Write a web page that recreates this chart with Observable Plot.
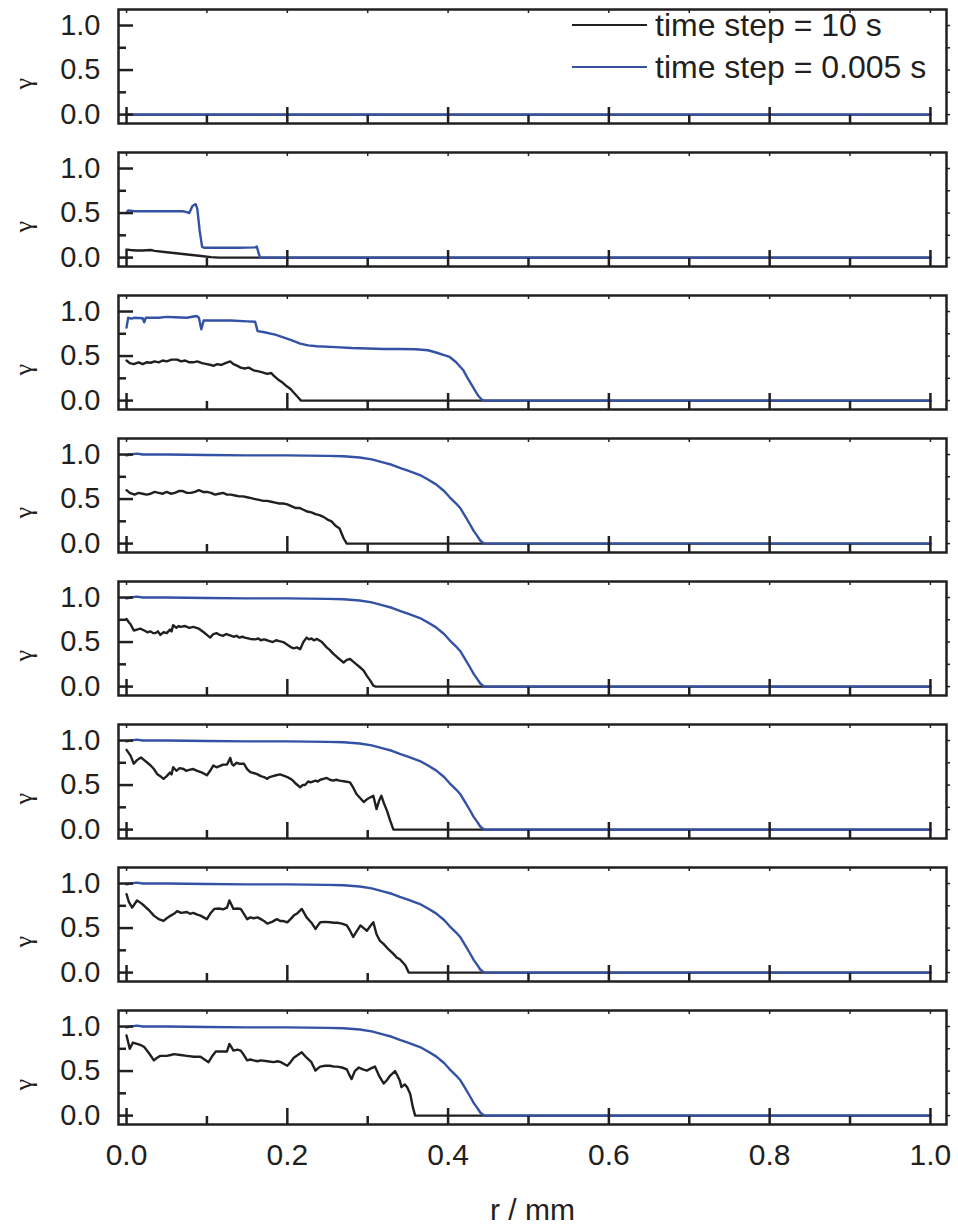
<!DOCTYPE html>
<html>
<head>
<meta charset="utf-8">
<script src="https://cdn.jsdelivr.net/npm/d3@7"></script>
<script src="https://cdn.jsdelivr.net/npm/@observablehq/plot@0.6"></script>
<style>
  html, body { margin: 0; padding: 0; background: white; }
  #chart { position: relative; width: 958px; height: 1230px; font-family: "Liberation Sans", Arial, sans-serif; color: #231f20; }
  #chart svg { display: block; }
  #legend { position: absolute; left: 572px; top: 4px; font-size: 32px; }
  #legend .row { display: flex; align-items: center; height: 42px; }
  #legend .sw { width: 75px; height: 0; border-top: 2px solid; margin-right: 8px; }
</style>
</head>
<body>
<div id="chart"></div>
<script>
// ---- tick values ----
const yMajorTicks = [0, 0.5, 1.0];
const yMinorTicks = [0.25, 0.75];
const yAllTicks = [0, 0.25, 0.5, 0.75, 1.0];
const xMajorTicks = [0, 0.2, 0.4, 0.6, 0.8, 1.0];
const xMinorTicks = [0.1, 0.3, 0.5, 0.7, 0.9];
const xAllTicks = [0, 0.1, 0.2, 0.3, 0.4, 0.5, 0.6, 0.7, 0.8, 0.9, 1.0];

// ---- series labels ----
const seriesLabels = ["time step = 10 s", "time step = 0.005 s"];
const seriesColors = ["#231f20", "#3352a6"];

// ---- data: [r (mm), gamma] ----
const p1Black = [[0, 0], [1, 0]];
const p1Blue = [[0, 0], [1, 0]];

const p2Black = [[0,0.09],[0.005,0.085],[0.012,0.08],[0.02,0.08],[0.03,0.085],[0.035,0.075],[0.05,0.06],[0.07,0.04],[0.09,0.02],[0.105,0.005],[0.115,0],[1,0]];
const p2Blue = [[0,0.5],[0.002,0.53],[0.01,0.52],[0.03,0.52],[0.05,0.52],[0.07,0.52],[0.075,0.51],[0.078,0.5],[0.082,0.58],[0.086,0.6],[0.088,0.55],[0.091,0.3],[0.094,0.12],[0.097,0.11],[0.12,0.11],[0.14,0.11],[0.16,0.115],[0.162,0.125],[0.164,0.06],[0.166,0],[1,0]];

const p3Black = [[0,0.45],[0.004,0.42],[0.009,0.41],[0.015,0.43],[0.02,0.41],[0.025,0.43],[0.03,0.425],[0.035,0.44],[0.04,0.43],[0.045,0.45],[0.05,0.44],[0.056,0.46],[0.063,0.46],[0.068,0.44],[0.073,0.45],[0.078,0.43],[0.083,0.43],[0.088,0.44],[0.094,0.42],[0.1,0.41],[0.105,0.4],[0.108,0.39],[0.113,0.41],[0.118,0.4],[0.123,0.42],[0.129,0.44],[0.133,0.41],[0.138,0.39],[0.142,0.37],[0.147,0.36],[0.152,0.37],[0.158,0.34],[0.163,0.33],[0.168,0.32],[0.175,0.3],[0.18,0.31],[0.183,0.28],[0.188,0.24],[0.193,0.21],[0.198,0.17],[0.204,0.13],[0.209,0.08],[0.213,0.04],[0.217,0],[1,0]];
const p3Blue = [[0,0.82],[0.002,0.93],[0.006,0.92],[0.01,0.93],[0.02,0.925],[0.022,0.88],[0.024,0.93],[0.04,0.93],[0.05,0.94],[0.06,0.935],[0.075,0.93],[0.087,0.95],[0.09,0.93],[0.093,0.8],[0.096,0.9],[0.11,0.9],[0.13,0.9],[0.15,0.89],[0.16,0.885],[0.163,0.78],[0.17,0.77],[0.185,0.74],[0.195,0.71],[0.205,0.68],[0.216,0.64],[0.226,0.62],[0.237,0.61],[0.26,0.6],[0.28,0.59],[0.3,0.585],[0.32,0.58],[0.34,0.58],[0.36,0.577],[0.375,0.565],[0.385,0.54],[0.395,0.51],[0.402,0.49],[0.41,0.43],[0.419,0.34],[0.425,0.24],[0.431,0.15],[0.437,0.06],[0.442,0.01],[0.445,0],[1,0]];

const p4Black = [[0,0.6],[0.004,0.57],[0.01,0.55],[0.015,0.57],[0.02,0.56],[0.025,0.55],[0.03,0.56],[0.035,0.58],[0.04,0.57],[0.045,0.56],[0.05,0.58],[0.055,0.56],[0.06,0.57],[0.065,0.59],[0.07,0.59],[0.075,0.57],[0.08,0.57],[0.085,0.58],[0.09,0.6],[0.095,0.58],[0.1,0.58],[0.105,0.57],[0.11,0.55],[0.115,0.56],[0.12,0.57],[0.125,0.55],[0.13,0.55],[0.135,0.54],[0.14,0.53],[0.145,0.53],[0.15,0.52],[0.155,0.51],[0.16,0.5],[0.165,0.49],[0.17,0.48],[0.175,0.48],[0.18,0.47],[0.185,0.46],[0.19,0.45],[0.195,0.45],[0.2,0.44],[0.205,0.42],[0.21,0.4],[0.215,0.4],[0.22,0.38],[0.225,0.36],[0.23,0.35],[0.235,0.33],[0.24,0.32],[0.245,0.3],[0.25,0.27],[0.255,0.25],[0.26,0.2],[0.265,0.17],[0.27,0.06],[0.274,0],[1,0]];

const p5Black = [[0,0.76],[0.003,0.72],[0.005,0.7],[0.009,0.63],[0.013,0.64],[0.017,0.65],[0.022,0.63],[0.026,0.61],[0.03,0.62],[0.033,0.6],[0.036,0.6],[0.039,0.62],[0.042,0.58],[0.046,0.61],[0.05,0.6],[0.054,0.64],[0.056,0.62],[0.058,0.69],[0.062,0.66],[0.065,0.68],[0.067,0.67],[0.073,0.68],[0.078,0.66],[0.083,0.67],[0.09,0.65],[0.096,0.61],[0.1,0.58],[0.104,0.55],[0.108,0.59],[0.112,0.6],[0.116,0.58],[0.12,0.57],[0.124,0.59],[0.127,0.58],[0.133,0.56],[0.137,0.57],[0.14,0.55],[0.144,0.56],[0.147,0.55],[0.154,0.535],[0.16,0.53],[0.164,0.54],[0.167,0.52],[0.171,0.53],[0.175,0.52],[0.182,0.5],[0.186,0.52],[0.19,0.51],[0.195,0.5],[0.2,0.47],[0.205,0.44],[0.208,0.43],[0.212,0.44],[0.216,0.42],[0.22,0.5],[0.224,0.55],[0.227,0.53],[0.23,0.54],[0.233,0.52],[0.237,0.535],[0.243,0.5],[0.249,0.44],[0.253,0.41],[0.257,0.37],[0.262,0.33],[0.266,0.3],[0.27,0.27],[0.274,0.3],[0.278,0.31],[0.282,0.28],[0.286,0.25],[0.29,0.22],[0.295,0.18],[0.299,0.12],[0.303,0.07],[0.307,0.01],[0.31,0],[1,0]];

const p6Black = [[0,0.895],[0.005,0.83],[0.009,0.74],[0.013,0.78],[0.018,0.81],[0.022,0.78],[0.026,0.75],[0.03,0.72],[0.034,0.68],[0.038,0.625],[0.042,0.6],[0.046,0.57],[0.05,0.6],[0.054,0.64],[0.056,0.62],[0.058,0.7],[0.062,0.66],[0.066,0.69],[0.071,0.68],[0.074,0.66],[0.078,0.67],[0.083,0.68],[0.088,0.66],[0.094,0.64],[0.1,0.61],[0.104,0.66],[0.108,0.72],[0.112,0.7],[0.115,0.71],[0.12,0.73],[0.125,0.73],[0.129,0.805],[0.131,0.74],[0.133,0.72],[0.137,0.75],[0.14,0.74],[0.146,0.74],[0.15,0.68],[0.154,0.645],[0.16,0.63],[0.163,0.62],[0.167,0.6],[0.171,0.59],[0.175,0.57],[0.178,0.59],[0.182,0.6],[0.186,0.61],[0.191,0.62],[0.197,0.6],[0.2,0.59],[0.204,0.57],[0.207,0.55],[0.21,0.52],[0.216,0.475],[0.219,0.5],[0.222,0.5],[0.226,0.54],[0.229,0.53],[0.235,0.55],[0.238,0.54],[0.241,0.56],[0.245,0.57],[0.249,0.58],[0.253,0.56],[0.257,0.55],[0.261,0.56],[0.265,0.55],[0.272,0.54],[0.278,0.53],[0.282,0.47],[0.286,0.4],[0.29,0.36],[0.295,0.31],[0.299,0.34],[0.303,0.36],[0.307,0.38],[0.311,0.23],[0.314,0.32],[0.317,0.38],[0.32,0.3],[0.324,0.21],[0.328,0.1],[0.332,0],[1,0]];

const p7Black = [[0,0.88],[0.003,0.79],[0.007,0.73],[0.013,0.81],[0.018,0.78],[0.022,0.75],[0.028,0.7],[0.034,0.64],[0.04,0.6],[0.046,0.58],[0.05,0.61],[0.055,0.64],[0.059,0.66],[0.063,0.69],[0.068,0.67],[0.075,0.68],[0.079,0.66],[0.083,0.67],[0.088,0.65],[0.092,0.64],[0.1,0.6],[0.104,0.66],[0.109,0.715],[0.115,0.72],[0.12,0.71],[0.125,0.73],[0.128,0.81],[0.133,0.715],[0.138,0.72],[0.142,0.715],[0.146,0.66],[0.15,0.6],[0.154,0.62],[0.158,0.61],[0.163,0.62],[0.167,0.6],[0.171,0.58],[0.175,0.55],[0.181,0.57],[0.187,0.6],[0.191,0.58],[0.194,0.58],[0.2,0.565],[0.204,0.6],[0.208,0.64],[0.213,0.67],[0.218,0.715],[0.224,0.62],[0.23,0.56],[0.235,0.49],[0.238,0.53],[0.241,0.565],[0.247,0.57],[0.253,0.565],[0.258,0.56],[0.262,0.56],[0.268,0.55],[0.274,0.53],[0.278,0.47],[0.282,0.4],[0.286,0.46],[0.291,0.53],[0.295,0.5],[0.299,0.47],[0.303,0.52],[0.307,0.565],[0.311,0.43],[0.315,0.36],[0.32,0.32],[0.326,0.26],[0.332,0.21],[0.336,0.17],[0.34,0.15],[0.347,0.08],[0.351,0],[1,0]];

const p8Black = [[0,0.9],[0.004,0.75],[0.008,0.82],[0.013,0.805],[0.018,0.79],[0.022,0.77],[0.028,0.7],[0.034,0.62],[0.038,0.65],[0.042,0.67],[0.05,0.67],[0.055,0.68],[0.059,0.69],[0.067,0.68],[0.075,0.67],[0.084,0.66],[0.092,0.66],[0.097,0.63],[0.102,0.6],[0.106,0.66],[0.111,0.72],[0.117,0.72],[0.125,0.72],[0.128,0.805],[0.133,0.73],[0.138,0.74],[0.142,0.73],[0.146,0.68],[0.15,0.62],[0.154,0.63],[0.158,0.62],[0.163,0.61],[0.167,0.62],[0.175,0.61],[0.183,0.6],[0.188,0.61],[0.192,0.6],[0.196,0.58],[0.2,0.56],[0.204,0.6],[0.208,0.65],[0.213,0.68],[0.218,0.71],[0.224,0.65],[0.23,0.6],[0.235,0.505],[0.238,0.53],[0.241,0.55],[0.247,0.56],[0.253,0.56],[0.258,0.55],[0.262,0.55],[0.268,0.54],[0.274,0.52],[0.277,0.46],[0.28,0.41],[0.284,0.5],[0.289,0.54],[0.294,0.52],[0.299,0.505],[0.304,0.53],[0.309,0.55],[0.314,0.45],[0.32,0.36],[0.324,0.4],[0.328,0.45],[0.334,0.5],[0.337,0.45],[0.34,0.39],[0.342,0.32],[0.346,0.35],[0.349,0.32],[0.353,0.24],[0.356,0.1],[0.359,0],[1,0]];

// blue (0.005 s) profile for the later panels
const pLateBlue = [[0,0.99],[0.005,1.0],[0.013,1.01],[0.02,1.0],[0.05,1.0],[0.1,0.995],[0.15,0.99],[0.2,0.99],[0.25,0.985],[0.27,0.98],[0.29,0.966],[0.305,0.945],[0.32,0.91],[0.33,0.885],[0.34,0.85],[0.35,0.82],[0.365,0.77],[0.375,0.72],[0.385,0.665],[0.395,0.59],[0.402,0.52],[0.41,0.45],[0.415,0.4],[0.421,0.31],[0.427,0.22],[0.432,0.14],[0.436,0.09],[0.44,0.035],[0.445,0],[1,0]];

const panelsBlack = [p1Black, p2Black, p3Black, p4Black, p5Black, p6Black, p7Black, p8Black];
const panelsBlue = [p1Blue, p2Blue, p3Blue, pLateBlue, pLateBlue, pLateBlue, pLateBlue, pLateBlue];

const toRows = (arr) => arr.map(([r, g]) => ({r, g}));
const ink = "#231f20";
const fmt = d3.format(".1f");

function panel(black, blue, last) {
  const marks = [
    Plot.line(toRows(black), {x: "r", y: "g", stroke: seriesColors[0], strokeWidth: 2.4, strokeLinejoin: "round"}),
    Plot.line(toRows(blue), {x: "r", y: "g", stroke: seriesColors[1], strokeWidth: 2.4, strokeLinejoin: "round"}),
    Plot.axisY({ticks: yMajorTicks, tickSize: -15, text: null, label: null, strokeWidth: 2.5, stroke: ink}),
    Plot.axisY({ticks: yMinorTicks, tickSize: -8, text: null, label: null, strokeWidth: 2.5, stroke: ink}),
    Plot.axisY({ticks: yMajorTicks, tickSize: 0, tickPadding: 18, tickFormat: fmt, fontSize: 29, label: null, fill: ink}),
    Plot.axisY({anchor: "right", ticks: yAllTicks, tickSize: 3, text: null, label: null, strokeWidth: 1.5, stroke: ink}),
    Plot.axisX({ticks: xMajorTicks, tickSize: -16, text: null, label: null, strokeWidth: 2.5, stroke: ink}),
    Plot.axisX({ticks: xMinorTicks, tickSize: -8, text: null, label: null, strokeWidth: 2.5, stroke: ink}),
    Plot.axisX({anchor: "top", ticks: xAllTicks, tickSize: -3, text: null, label: null, strokeWidth: 1.5, stroke: ink}),
    Plot.frame({stroke: ink, strokeWidth: 2.5}),
    Plot.text(["γ"], {frameAnchor: "left", dx: -95, dy: 23, rotate: -90, fontSize: 26, fontFamily: "'Liberation Serif', serif", fill: ink})
  ];
  if (last) {
    marks.push(Plot.axisX({ticks: xMajorTicks, tickSize: 0, tickPadding: 19, tickFormat: fmt, fontSize: 30,
      label: "r / mm", labelAnchor: "center", labelArrow: "none", labelOffset: 95, fill: ink}));
  }
  return Plot.plot({
    width: 958,
    height: last ? 229 : 143,
    marginLeft: 118,
    marginRight: 12,
    marginTop: 9,
    marginBottom: last ? 106 : 20,
    x: {domain: [-0.01, 1.02]},
    y: {domain: [-0.1, 1.18]},
    style: {fontFamily: "'Liberation Sans', Arial, sans-serif", background: "white", color: ink, overflow: "visible"},
    marks
  });
}

const chart = document.getElementById("chart");
panelsBlack.forEach((b, i) => {
  chart.appendChild(panel(b, panelsBlue[i], i === panelsBlack.length - 1));
});

// legend (inside top panel)
const legend = document.createElement("div");
legend.id = "legend";
seriesLabels.forEach((lab, i) => {
  const row = document.createElement("div");
  row.className = "row";
  const sw = document.createElement("span");
  sw.className = "sw";
  sw.style.borderTopColor = seriesColors[i];
  const t = document.createElement("span");
  t.textContent = lab;
  row.appendChild(sw);
  row.appendChild(t);
  legend.appendChild(row);
});
chart.appendChild(legend);
</script>
</body>
</html>
